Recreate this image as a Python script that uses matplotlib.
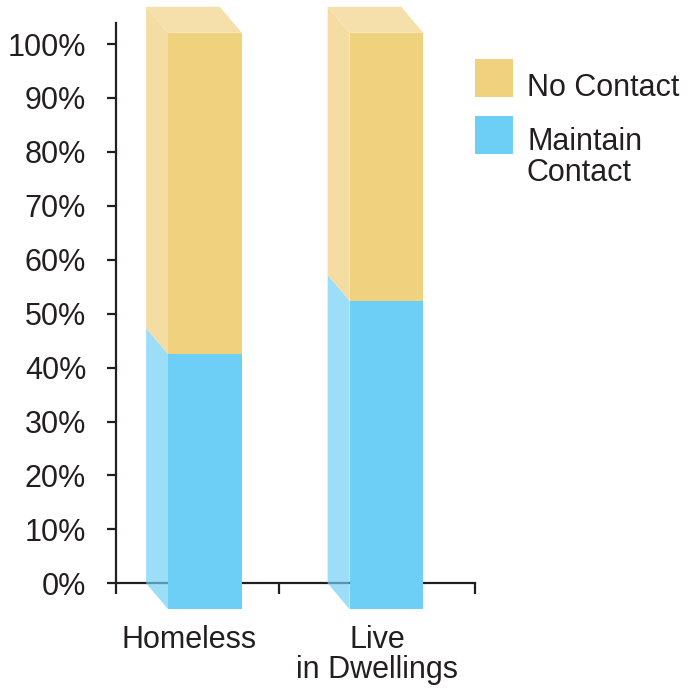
import numpy as np
import matplotlib.pyplot as plt
from matplotlib.patches import Polygon, Rectangle

categories = ['Homeless', 'Live\nin Dwellings']
maintain = np.array([47.3, 57.2])
no_contact = np.array([59.6, 49.7])
legend_labels = ['No Contact', 'Maintain\nContact']
yticks = np.arange(0, 101, 10)

yellow = '#f0d27e'
yellow_side = '#f5dca2'
yellow_top = '#f5e0ac'
blue = '#6dcff6'
blue_side = '#6dcff6'
text_color = '#231f20'
fs = 22

plt.rcParams['font.family'] = ['Liberation Sans', 'DejaVu Sans']

W, H = 690, 695
fig = plt.figure(figsize=(W / 100, H / 100), dpi=100)
ax = fig.add_axes([116 / W, 111.7 / H, 359 / W, 560.3 / H])
x0, x1 = -0.369, 1.609
y0, y1 = 0, 103.9
ax.set_xlim(x0, x1)
ax.set_ylim(y0, y1)

# 3D depth of the bars (22 px right, 26 px down) in data units
dx = 22 / (359 / (x1 - x0))
dy = 26 / (560.3 / (y1 - y0))
w = 0.406
x = np.arange(len(categories))
left = x - w / 2
total = maintain + no_contact

for i in range(len(x)):
    l, m, t = left[i], maintain[i], total[i]
    # side faces
    ax.add_patch(Polygon([(l, 0), (l, m), (l + dx, m - dy), (l + dx, -dy)],
                         closed=True, facecolor=blue_side, alpha=0.68,
                         edgecolor='none', zorder=3, clip_on=False))
    ax.add_patch(Polygon([(l, m), (l, t), (l + dx, t - dy), (l + dx, m - dy)],
                         closed=True, facecolor=yellow_side, edgecolor='none',
                         zorder=3, clip_on=False))
    # top face
    ax.add_patch(Polygon([(l, t), (l + w, t), (l + w + dx, t - dy), (l + dx, t - dy)],
                         closed=True, facecolor=yellow_top, edgecolor='none',
                         zorder=3, clip_on=False))

# front faces
b1 = ax.bar(x + dx, maintain, w, bottom=-dy, color=blue, zorder=4)
b2 = ax.bar(x + dx, no_contact, w, bottom=maintain - dy, color=yellow, zorder=4)
for b in list(b1) + list(b2):
    b.set_clip_on(False)

for s in ['top', 'right']:
    ax.spines[s].set_visible(False)
for s in ['left', 'bottom']:
    ax.spines[s].set_linewidth(1.6)
    ax.spines[s].set_color(text_color)

ax.set_yticks(yticks)
ax.set_yticklabels([f'{v}%' for v in yticks], fontsize=fs, color=text_color)
ax.tick_params(axis='y', length=6.5, width=1.6, pad=15, color=text_color)

ax.set_xticks([x0, 0.53, x1])
ax.set_xticklabels([])
ax.tick_params(axis='x', which='major', length=8, width=1.6, color=text_color)
ax.set_xticks(x + np.array([0.032, 0.07]), minor=True)
ax.set_xticklabels(categories, minor=True, fontsize=fs, color=text_color,
                   linespacing=0.98)
ax.tick_params(axis='x', which='minor', length=0, pad=30)

# legend
colors = [yellow, blue]
box_tops = [59, 116]
baselines = [96, 150]
for c, top, base, lab in zip(colors, box_tops, baselines, legend_labels):
    fig.patches.append(Rectangle((475 / W, 1 - (top + 37.5) / H), 37.5 / W, 37.5 / H,
                                 transform=fig.transFigure, facecolor=c,
                                 edgecolor='none'))
    lines = lab.split('\n')
    for k, line in enumerate(lines):
        fig.text(527 / W, 1 - (base + 31 * k) / H, line, fontsize=fs,
                 color=text_color, va='baseline')

fig.savefig('out.png', dpi=100)
